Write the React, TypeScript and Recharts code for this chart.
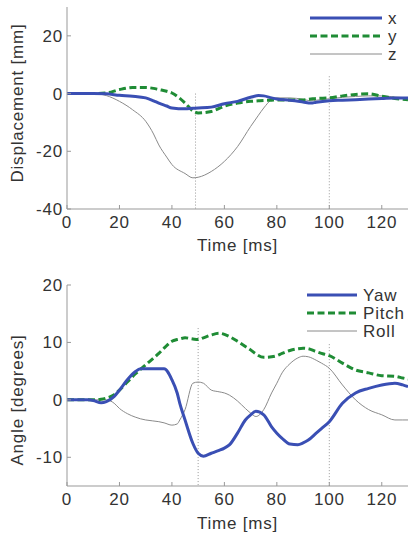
import { LineChart, Line, XAxis, YAxis, ReferenceLine, Legend } from "recharts";

const FONT = '"Liberation Sans", Arial, sans-serif';
const BLUE = "#3a4fb4";
const GREEN = "#1f8c35";
const GRAY = "#8a8a8a";
const AXIS = "#999";

// displacement panel
const dispTime = [0, 5, 10, 15, 20, 25, 30, 33, 35, 38, 40, 45, 48, 50, 55, 60, 65, 70, 73, 75, 78, 80, 85, 90, 93, 95, 100, 105, 110, 115, 120, 125, 130];
const dispX = [0, 0, 0, -0.1, -0.6, -0.9, -1.5, -2.5, -3.3, -4.3, -5, -5.3, -5.1, -5, -4.7, -3.5, -2.7, -1.3, -0.7, -0.8, -1.5, -1.9, -2.3, -2.9, -3.3, -3, -2.5, -2.3, -2.1, -1.9, -1.7, -1.5, -1.5];
const dispY = [0, 0, 0, 0.2, 1.4, 2.1, 2.1, 1.8, 1.4, 0.8, 0.2, -3.3, -6, -6.7, -6.2, -4.4, -3.3, -2.7, -2.5, -2.4, -2.3, -2.2, -2.2, -2.2, -1.9, -1.7, -1.5, -0.8, -0.3, -0.1, -0.9, -1.7, -2.1];
const dispZ = [0, 0, 0, -0.7, -2.7, -5.6, -9.6, -14, -17.8, -22, -24.6, -27.7, -29.2, -29, -27, -23.5, -18.4, -11.4, -7.5, -5, -2.1, -1.5, -1.5, -2, -2.5, -2.3, -1.8, -1.3, -1, -0.8, -0.8, -1.2, -1.5];

// angle panel
const angTime = [0, 5, 8, 10, 13, 15, 18, 20, 23, 26, 28, 30, 35, 37, 40, 42, 43, 45, 48, 50, 52, 55, 58, 60, 62, 65, 68, 70, 72, 75, 78, 80, 82, 85, 88, 90, 92, 95, 97, 100, 105, 110, 115, 120, 125, 128, 130];
const yaw = [0, 0, 0, -0.1, -0.5, -0.3, 0.6, 1.7, 3.5, 4.9, 5.4, 5.4, 5.4, 5.4, 3.5, 1.2, -0.6, -3.5, -7.6, -9.3, -9.8, -9.3, -8.8, -8.4, -7.8, -5.8, -3.5, -2.6, -2, -2.6, -4.7, -5.8, -6.7, -7.7, -7.8, -7.5, -7, -5.8, -5, -3.8, -0.6, 1.2, 2, 2.6, 2.9, 2.6, 2.3];
const pitch = [0, 0, 0, 0, 0.1, 0.3, 0.9, 1.7, 3.1, 4.5, 5.3, 6.1, 8.1, 9, 10.2, 10.5, 10.6, 10.8, 10.6, 10.5, 10.8, 11.3, 11.6, 11.4, 11, 10.2, 9.3, 8.7, 8, 7.4, 7.5, 7.7, 8.1, 8.6, 8.9, 9, 8.9, 8.4, 8.1, 7.7, 6.4, 5.2, 4.7, 4.2, 4.1, 3.8, 3.6];
const roll = [0, 0, 0, 0, 0, 0, -0.6, -1.5, -2.4, -3, -3.3, -3.5, -3.8, -4, -4.4, -4.2, -3.5, -1.7, 2.9, 3.1, 2.9, 1.7, 1.4, 1.2, 0.8, -0.2, -1.5, -2.3, -2.9, -1.7, 1.2, 2.9, 4.7, 6.3, 7.3, 7.6, 7.5, 6.9, 6.4, 5.5, 2.6, 0, -1.7, -2.6, -3.5, -3.5, -3.5];

const timeTicks = [0, 20, 40, 60, 80, 100, 120];
const dispTicks = [-40, -20, 0, 20];
const angTicks = [-10, 0, 10, 20];

// dotted markers: time, top value of the segment
const dispMarks = [{ t: 49, top: 0 }, { t: 100, top: 6 }];
const angMarks = [{ t: 50, top: 12.5 }, { t: 100, top: 9.7 }];

const dispNames = ["x", "y", "z"];
const angNames = ["Yaw", "Pitch", "Roll"];

const dispData = dispTime.map((t, i) => ({ t, x: dispX[i], y: dispY[i], z: dispZ[i] }));
const angData = angTime.map((t, i) => ({ t, yaw: yaw[i], pitch: pitch[i], roll: roll[i] }));

const textStyle = { fill: "#333", fontSize: 17, fontFamily: FONT, letterSpacing: 0.8 };

function LegendBox({ names, lineW }: { names: string[]; lineW: number }) {
  const styles = [
    { stroke: BLUE, w: 3, dash: undefined },
    { stroke: GREEN, w: 3, dash: "7 3.5" },
    { stroke: GRAY, w: 1, dash: undefined },
  ];
  return (
    <svg width={lineW + 60} height={58} style={{ display: "block" }}>
      {names.map((n, i) => (
        <g key={n}>
          <line x1={0} x2={lineW} y1={8 + i * 18} y2={8 + i * 18} stroke={styles[i].stroke} strokeWidth={styles[i].w} strokeDasharray={styles[i].dash} />
          <text x={lineW + 6} y={8 + i * 18} dominantBaseline="central" style={textStyle}>{n}</text>
        </g>
      ))}
    </svg>
  );
}

function YLabel({ text, x, y }: { text: string; x: number; y: number }) {
  return (
    <text x={x} y={y} transform={`rotate(-90 ${x} ${y})`} textAnchor="middle" dominantBaseline="central" style={textStyle}>
      {text}
    </text>
  );
}

export default function App() {
  return (
    <div style={{ position: "absolute", left: 0, top: 0, width: 409, height: 535, background: "#fff" }}>
      <LineChart width={409} height={260} data={dispData} margin={{ top: 7, right: 1, left: 0, bottom: 0 }}>
        <XAxis dataKey="t" type="number" domain={[0, 130]} ticks={timeTicks} allowDataOverflow height={51}
          stroke={AXIS} tick={textStyle} tickSize={-4} tickMargin={11}
          label={{ value: "Time [ms]", position: "insideBottom", offset: 9, style: textStyle }} />
        <YAxis type="number" domain={[-40, 30]} ticks={dispTicks} width={67} stroke={AXIS} tick={textStyle} tickSize={-4} tickMargin={8}
          label={{ content: () => <YLabel text="Displacement [mm]" x={17} y={103} /> }} />
        {dispMarks.map((m) => (
          <ReferenceLine key={m.t} segment={[{ x: m.t, y: m.top }, { x: m.t, y: -40 }]} stroke="#999" strokeDasharray="1 2" />
        ))}
        <Line dataKey="z" type="monotone" stroke={GRAY} strokeWidth={1} dot={false} isAnimationActive={false} />
        <Line dataKey="y" type="monotone" stroke={GREEN} strokeWidth={3} strokeDasharray="7 3.5" dot={false} isAnimationActive={false} />
        <Line dataKey="x" type="monotone" stroke={BLUE} strokeWidth={3} dot={false} isAnimationActive={false} />
        <Legend layout="horizontal" verticalAlign="middle" align="center"
          wrapperStyle={{ top: 10, left: 310, width: 100 }}
          content={() => <LegendBox names={dispNames} lineW={72} />} />
      </LineChart>
      <LineChart width={409} height={275} data={angData} margin={{ top: 25, right: 1, left: 0, bottom: 0 }}>
        <XAxis dataKey="t" type="number" domain={[0, 130]} ticks={timeTicks} allowDataOverflow height={49}
          stroke={AXIS} tick={textStyle} tickSize={-4} tickMargin={11}
          label={{ value: "Time [ms]", position: "insideBottom", offset: 6, style: textStyle }} />
        <YAxis type="number" domain={[-15, 20]} ticks={angTicks} width={67} stroke={AXIS} tick={textStyle} tickSize={-4} tickMargin={8}
          label={{ content: () => <YLabel text="Angle [degrees]" x={17} y={140} /> }} />
        {angMarks.map((m) => (
          <ReferenceLine key={m.t} segment={[{ x: m.t, y: m.top }, { x: m.t, y: -15 }]} stroke="#999" strokeDasharray="1 2" />
        ))}
        <Line dataKey="roll" type="monotone" stroke={GRAY} strokeWidth={1} dot={false} isAnimationActive={false} />
        <Line dataKey="pitch" type="monotone" stroke={GREEN} strokeWidth={3} strokeDasharray="7 3.5" dot={false} isAnimationActive={false} />
        <Line dataKey="yaw" type="monotone" stroke={BLUE} strokeWidth={3} dot={false} isAnimationActive={false} />
        <Legend layout="horizontal" verticalAlign="middle" align="center"
          wrapperStyle={{ top: 27, left: 307, width: 102 }}
          content={() => <LegendBox names={angNames} lineW={50} />} />
      </LineChart>
    </div>
  );
}
